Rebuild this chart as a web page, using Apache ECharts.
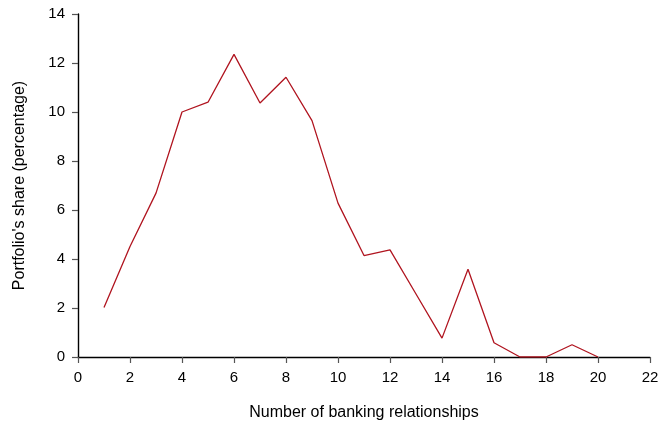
<!DOCTYPE html>
<html>
<head>
<meta charset="utf-8">
<script src="https://cdn.jsdelivr.net/npm/echarts@6/dist/echarts.min.js"></script>
<style>
	html,body{margin:0;padding:0;background:#fff;}
	#chart{width:658px;height:425px;}
</style>
</head>
<body>
<div id="chart"></div>
<script>
	// number of banking relationships
	const relationships = [1,2,3,4,5,6,7,8,9,10,11,12,13,14,15,16,17,18,19,20]
	// portfolio's share (%)
	const shares = [2.02,4.51,6.69,10.0,10.4,12.35,10.37,11.42,9.65,6.28,4.14,4.37,2.57,0.77,3.58,0.58,0,0,0.5,0]

	const fontFamily = '"Liberation Sans", Arial, sans-serif'
	const myChart = echarts.init(document.getElementById('chart'))

	const axisCommon = {
		axisLine: {show: true, onZero: false, lineStyle: {color: '#000', width: 1.4}},
		axisTick: {show: true, length: 6, lineStyle: {color: '#555', width: 1.2}},
		axisLabel: {color: '#000', fontSize: 15, fontFamily: fontFamily},
		splitLine: {show: false},
		nameTextStyle: {color: '#000', fontSize: 16, fontFamily: fontFamily}
	}

	const option = {
		backgroundColor: '#fff',
		animation: false,
		grid: {left: 78, right: 8, top: 14, bottom: 68, containLabel: false, outerBoundsMode: 'none'},
		xAxis: Object.assign({}, axisCommon, {
			type: 'value',
			min: 0,
			max: 22,
			interval: 2,
			name: 'Number of banking relationships',
			nameLocation: 'middle',
			nameGap: 48,
			axisLabel: Object.assign({}, axisCommon.axisLabel, {margin: 13})
		}),
		yAxis: Object.assign({}, axisCommon, {
			type: 'value',
			min: 0,
			max: 14,
			interval: 2,
			name: "Portfolio's share (percentage)",
			nameLocation: 'middle',
			nameGap: 50,
			axisLabel: Object.assign({}, axisCommon.axisLabel, {margin: 13})
		}),
		series: [{
			type: 'line',
			data: relationships.map((x, i) => [x, shares[i]]),
			symbol: 'none',
			lineStyle: {color: '#b0141f', width: 1.3},
			itemStyle: {color: '#b0141f'}
		}]
	}
	myChart.setOption(option)
</script>
</body>
</html>
